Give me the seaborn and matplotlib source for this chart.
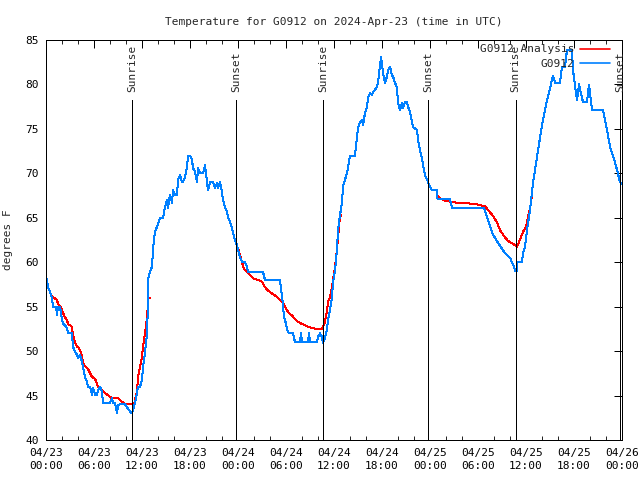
import numpy as np
import pandas as pd
import matplotlib
matplotlib.use("Agg")
import matplotlib.pyplot as plt
import seaborn as sns
from matplotlib.lines import Line2D

# ---------------- data (hours since 2024-04-23 00:00 UTC) ----------------
obs_hours = [0, 0.125, 0.25, 0.5, 0.75, 0.875, 1.25, 1.375, 1.5, 1.75, 2, 2.125, 2.375, 2.625, 2.75,
             3.25, 3.375, 3.625, 3.875, 4, 4.25, 4.5, 4.625, 4.875, 5.125, 5.25, 5.5, 5.75, 5.875,
             6.125, 6.375, 6.5, 6.75, 7, 7.125, 8, 8.25, 8.375, 8.625, 8.875, 9, 9.25, 9.875,
             10.125, 10.5, 10.75, 10.875, 11.125, 11.375, 11.5, 11.75, 12, 12.125, 12.375, 12.625,
             12.75, 12.8, 13, 13.25, 13.375, 13.5, 13.625, 13.875, 14.25, 14.625, 14.875, 15.125,
             15.25, 15.5, 15.75, 15.875, 16.125, 16.375, 16.5, 16.75, 17, 17.125, 17.375, 17.625,
             17.75, 18, 18.25, 18.375, 18.625, 18.875, 19, 19.25, 19.625, 19.875, 20.125, 20.25,
             20.5, 20.875, 21.125, 21.375, 21.5, 21.75, 22, 22.125, 22.375, 22.625, 22.75, 23,
             23.25, 23.375, 23.625, 23.875, 24, 24.25, 24.5, 24.875, 25.125, 25.25, 27.125, 27.375,
             29.25, 29.375, 29.5, 29.625, 29.75, 30, 30.125, 30.375, 30.875, 31.125, 31.75, 31.875,
             32, 32.75, 32.875, 33, 33.875, 34, 34.25, 34.5, 34.625, 34.875, 35.125, 35.25, 35.5,
             35.75, 35.875, 36.125, 36.375, 36.5, 36.75, 37, 37.125, 37.375, 37.625, 37.75, 38,
             38.625, 38.875, 39, 39.25, 39.5, 39.625, 39.875, 40.125, 40.25, 40.5, 40.75, 40.875,
             41.375, 41.5, 41.75, 41.875, 42.125, 42.375, 42.625, 42.75, 43, 43.25, 43.375, 43.625,
             43.875, 44, 44.25, 44.5, 44.625, 44.875, 45.125, 45.25, 45.5, 45.875, 46.375, 46.5,
             46.75, 47, 47.125, 47.375, 47.625, 48, 48.25, 48.875, 48.94, 50.5, 50.75, 54.75,
             55.125, 55.5, 55.875, 56.5, 57.375, 58, 58.5, 58.625, 58.875, 58.94, 59.5, 59.625,
             59.875, 60.125, 60.5, 60.875, 61.375, 61.75, 62.125, 62.625, 62.875, 63.375, 63.625,
             64.25, 64.5, 64.875, 65.125, 65.75, 65.875, 66.375, 66.625, 67.125, 67.625, 67.875,
             68.25, 69.625, 70.125, 70.5, 70.875, 71.375, 71.75, 72]
obs_temps = [58.2, 58, 57.2, 56.65, 56, 55, 55, 54.1, 55, 55, 53.5, 53.1, 52.9, 52.6, 52,
             52, 50.5, 49.9, 49.6, 49.2, 49.6, 48.8, 48.2, 47.1, 46.5, 46, 46, 45.1, 45.9,
             45.1, 45.1, 45.6, 46, 45.4, 44.2, 44.2, 44.7, 44.2, 44.2, 43, 43.9, 44, 44,
             43.7, 43.2, 43.0, 43.4, 44.2, 45.3, 46, 46, 46.75, 48.2, 49.8, 52,
             55.4, 58.2, 58.9, 59.5, 61.4, 62.5, 63.4, 64, 65, 65, 66.2, 67,
             66.1, 67.6, 66.7, 68.1, 67.6, 67.6, 69.3, 69.8, 69, 69, 69.6, 70.7,
             72, 72, 71.5, 70.6, 70.2, 69, 70.6, 70, 70, 70.9, 69, 68.1,
             69, 69, 68.35, 68.9, 68.35, 69, 67.9, 67, 66.2, 65.65, 65.1, 64.5,
             63.9, 63.3, 62.5, 61.9, 61.4, 60.6, 60, 60, 59.5, 58.9, 58.9, 58,
             58, 56.9, 56.3, 55, 53.8, 53.1, 52.4, 52, 52, 51, 51, 52,
             51, 51, 52, 51, 51, 51.6, 52, 51.6, 50.9, 51.5, 52.4, 53.5, 54.6,
             56.1, 57.7, 59.1, 61.4, 63.6, 65.3, 66.7, 68.5, 69.3, 70, 70.7, 72,
             72, 74, 75.1, 75.8, 76, 75.4, 76.8, 77.5, 78.5, 79, 78.8, 79.1,
             79.7, 80.2, 82.2, 83.1, 81.3, 80.2, 80.9, 81.6, 82, 81, 80.9, 80.2,
             79.6, 78, 77.1, 77.9, 77.3, 78, 78, 77.5, 76.9, 75.2, 74.9, 73.75,
             72.6, 71.7, 70.9, 69.8, 69.3, 68.5, 68.1, 68.1, 67.1, 67.1, 66.1, 66.1,
             65.1, 64.1, 63.1, 62.2, 61, 60.5, 59.5, 59, 59, 60, 60, 61,
             61.7, 63.6, 65.9, 68.9, 71.8, 74, 76, 78.2, 79.1, 81, 80.2,
             80.2, 82, 82, 83.9, 83.9, 81.6, 78.2, 80, 78, 78, 80,
             77.1, 77.1, 74.9, 73, 72, 70.4, 69, 68.8]

ana_hours_1 = [0.625, 0.875, 1.375, 1.5, 1.75, 2, 2.125, 2.375, 2.625, 2.75, 3, 3.25, 3.375,
               3.625, 3.875, 4, 4.25, 4.5, 4.625, 4.875, 5.125, 5.25, 5.75, 6.125, 6.5, 7,
               7.625, 8.25, 9, 9.5, 9.875, 10.75, 11, 11.125, 11.375, 11.5, 11.75, 12, 12.125,
               12.375, 12.625, 12.75, 12.8, 13]
ana_temps_1 = [56.3, 56.1, 55.75, 55.3, 55.1, 54.7, 54.3, 53.8, 53.5, 53.05, 52.9, 52.7, 51.8,
               51, 50.5, 50.5, 50.1, 49.45, 48.7, 48.3, 48.1, 48.0, 47.1, 46.9, 46, 45.6,
               45.1, 44.7, 44.7, 44.3, 44.0, 44.0, 44.0, 44.5, 45.4, 47.1, 48.2, 49.3, 50.5,
               52, 53.8, 55.4, 56, 56]
ana_hours_2 = [24.0, 24.75, 25.125, 25.5, 25.875, 26.5, 27, 27.375, 27.75, 28.375, 28.875, 29.25,
               29.625, 29.875, 30.25, 30.75, 31.125, 31.5, 32, 32.625, 33.25, 33.875, 34.5,
               34.625, 34.875, 35.125, 35.25, 35.5, 35.75, 36.125, 36.375, 36.5, 36.75, 36.875]
ana_temps_2 = [61.6, 59.2, 58.9, 58.6, 58.2, 58, 57.8, 57.2, 56.8, 56.4, 56.1, 55.75,
               55.4, 55, 54.4, 54, 53.6, 53.3, 53.05, 52.8, 52.6, 52.5, 52.5,
               52.7, 53.3, 54.6, 55.5, 56.1, 57.2, 59.5, 61.4, 62.8, 65.1, 65.3]
ana_hours_3 = [48.875, 49.25, 49.875, 51.375, 53, 53.875, 54.875, 55.25, 55.875, 56.375, 56.75,
               57.375, 57.75, 58.5, 58.875, 59.125, 59.625, 60, 60.25, 60.625, 60.75]
ana_temps_3 = [67.5, 67.2, 66.9, 66.7, 66.6, 66.5, 66.3, 65.9, 65.2, 64.5, 63.6,
               62.8, 62.4, 62.0, 61.7, 62.3, 63.4, 64, 65.1, 66.6, 67.8]

sun_hours = [10.78, 23.76, 34.66, 47.79, 58.71, 71.8]
sun_labels = ["Sunrise", "Sunset", "Sunrise", "Sunset", "Sunrise", "Sunset"]

xtick_hours = [0, 6, 12, 18, 24, 30, 36, 42, 48, 54, 60, 66, 72]
xtick_labels = ["04/23\n00:00", "04/23\n06:00", "04/23\n12:00", "04/23\n18:00",
                "04/24\n00:00", "04/24\n06:00", "04/24\n12:00", "04/24\n18:00",
                "04/25\n00:00", "04/25\n06:00", "04/25\n12:00", "04/25\n18:00",
                "04/26\n00:00"]
ytick_values = [40, 45, 50, 55, 60, 65, 70, 75, 80, 85]

title = "Temperature for G0912 on 2024-Apr-23 (time in UTC)"
ylabel = "degrees F"
name_analysis = "G0912 Analysis"
name_obs = "G0912"

# ---------------- plotting ----------------
sns.set_style("white")
plt.rcParams["font.family"] = ["DejaVu Sans Mono"]
plt.rcParams["font.size"] = 8

obs_df = pd.DataFrame({"hour": obs_hours, "temp": obs_temps})
ana_df = pd.concat([
    pd.DataFrame({"hour": ana_hours_1, "temp": ana_temps_1, "seg": 1}),
    pd.DataFrame({"hour": ana_hours_2, "temp": ana_temps_2, "seg": 2}),
    pd.DataFrame({"hour": ana_hours_3, "temp": ana_temps_3, "seg": 3}),
])

fig = plt.figure(figsize=(6.4, 4.8), dpi=100)
ax = fig.add_axes([46 / 640, 40 / 480, 576 / 640, 400 / 480])

red = "#ff0000"
blue = "#0080ff"
lw = 0.72  # one pixel

sns.lineplot(data=ana_df, x="hour", y="temp", units="seg", estimator=None, sort=False,
             color=red, linewidth=lw, antialiased=False, ax=ax, legend=False)
sns.lineplot(data=obs_df, x="hour", y="temp", estimator=None, sort=False,
             color=blue, linewidth=lw, antialiased=False, ax=ax, legend=False)

for h, lab in zip(sun_hours, sun_labels):
    ax.axvline(h, ymin=0, ymax=0.85, color="black", linewidth=lw, antialiased=False)
    ax.text(h, 0.87, lab, transform=ax.get_xaxis_transform(), rotation=90,
            ha="center", va="bottom", fontsize=8)

ax.set_xlim(0, 72)
ax.set_ylim(40, 85)
ax.set_xticks(xtick_hours)
ax.set_xticklabels(xtick_labels)
ax.set_xticks(np.arange(0, 73, 2), minor=True)
ax.set_yticks(ytick_values)
ax.tick_params(axis="both", which="major", direction="in", length=6, width=lw,
               top=True, right=True, labelsize=8, colors="black")
ax.tick_params(axis="x", which="minor", direction="in", length=3, width=lw,
               top=True, bottom=True)
ax.tick_params(axis="x", which="major", pad=6)
ax.tick_params(axis="y", which="major", pad=5)
for lbl in ax.get_xticklabels():
    lbl.set_linespacing(1.35)
for s in ax.spines.values():
    s.set_color("black")
    s.set_linewidth(lw)

ax.set_xlabel("")
ax.set_ylabel(ylabel, fontsize=8, labelpad=9)
ax.set_title(title, fontsize=8, pad=11)

handles = [Line2D([0, 1], [0, 0], color=red, linewidth=1.2, antialiased=True),
           Line2D([0, 1], [0, 0], color=blue, linewidth=1.2, antialiased=True)]
ax.legend(handles, [name_analysis, name_obs], loc="upper right", frameon=False,
          markerfirst=False, handlelength=2.7, handletextpad=0.5, fontsize=8,
          borderaxespad=0.0, borderpad=0.4, labelspacing=0.38,
          bbox_to_anchor=(0.987, 1.0))

fig.savefig("out.png", dpi=100)
